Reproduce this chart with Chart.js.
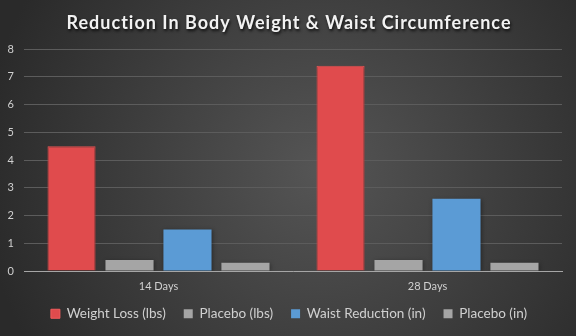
<!DOCTYPE html>
<html>
<head>
<meta charset="utf-8">
<script src="https://cdn.jsdelivr.net/npm/chart.js@4.4.1/dist/chart.umd.min.js"></script>
<style>
  html, body { margin: 0; padding: 0; background: #2b2b2b; }
</style>
</head>
<body>
<canvas id="chart" width="576" height="336"></canvas>
<script>
const titleText = "Reduction In Body Weight & Waist Circumference";
const categories = ["14 Days", "28 Days"];
const weightLoss = [4.5, 7.4];
const placeboLbs = [0.4, 0.4];
const waistReduction = [1.5, 2.6];
const placeboIn = [0.3, 0.3];
const yTicks = [0, 1, 2, 3, 4, 5, 6, 7, 8];

const fontFamily = "Lato, 'Open Sans', sans-serif";

// background + title drawn by hand (title needs a drop shadow)
const backdrop = {
  id: "backdrop",
  beforeDraw(chart) {
    const { ctx, width, height } = chart;
    ctx.save();
    const g = ctx.createRadialGradient(320, 170, 0, 320, 170, 340);
    g.addColorStop(0, "#555555");
    g.addColorStop(1, "#2a2a2a");
    ctx.fillStyle = g;
    ctx.fillRect(0, 0, width, height);
    ctx.restore();
  },
  afterDraw(chart) {
    const ctx = chart.ctx;
    ctx.save();
    ctx.font = "bold 18px " + fontFamily;
    ctx.letterSpacing = "1px";
    ctx.textAlign = "center";
    ctx.textBaseline = "alphabetic";
    ctx.shadowColor = "rgba(0,0,0,0.8)";
    ctx.shadowBlur = 3;
    ctx.shadowOffsetX = 1;
    ctx.shadowOffsetY = 2;
    ctx.fillStyle = "#f2f2f2";
    ctx.fillText(titleText, 289, 29);
    ctx.restore();
  }
};

// soft shadow under the bars
const barShadow = {
  id: "barShadow",
  beforeDatasetsDraw(chart) {
    const ctx = chart.ctx;
    ctx.save();
    ctx.shadowColor = "rgba(0,0,0,0.35)";
    ctx.shadowBlur = 4;
    ctx.shadowOffsetX = 1;
    ctx.shadowOffsetY = 1;
  },
  afterDatasetsDraw(chart) {
    chart.ctx.restore();
  }
};

// legend band: fixed height, then nudged up a little under the x labels
const legendBand = {
  id: "legendBand",
  beforeLayout(chart) {
    const lg = chart.legend;
    if (lg && !lg._patched) {
      const fit = lg.fit;
      lg.fit = function () {
        fit.call(this);
        this.height = 35;
      };
      lg._patched = true;
    }
  },
  afterLayout(chart) {
    const lg = chart.legend;
    lg.top = 289;
    lg.bottom = 336;
    lg.left += 8;
    lg.right += 8;
  }
};

new Chart(document.getElementById("chart"), {
  type: "bar",
  data: {
    labels: categories,
    datasets: [
      { label: "Weight Loss (lbs)", data: weightLoss, backgroundColor: "#e04b4d", borderColor: "#f35c5c", borderWidth: 1 },
      { label: "Placebo (lbs)", data: placeboLbs, backgroundColor: "#a5a5a5" },
      { label: "Waist Reduction (in)", data: waistReduction, backgroundColor: "#5b9bd5" },
      { label: "Placebo (in)", data: placeboIn, backgroundColor: "#a5a5a5" }
    ]
  },
  options: {
    responsive: false,
    animation: false,
    devicePixelRatio: 1,
    categoryPercentage: 0.862,
    barPercentage: 0.83,
    layout: { padding: { top: 49, right: 14, bottom: 0, left: 0 } },
    plugins: {
      title: { display: false },
      tooltip: { enabled: false },
      legend: {
        position: "bottom",
        labels: {
          color: "#d0d0d0",
          font: { family: fontFamily, size: 13.5 },
          boxWidth: 9,
          boxHeight: 9,
          padding: 18
        }
      }
    },
    scales: {
      x: {
        afterFit(scale) { scale.height = 30; },
        grid: { display: false },
        border: { color: "#a6a6a6", width: 1 },
        ticks: { color: "#d0d0d0", font: { family: fontFamily, size: 11 }, padding: 1 }
      },
      y: {
        min: 0,
        max: 8,
        afterBuildTicks(scale) {
          scale.ticks = yTicks.map(v => ({ value: v }));
        },
        afterFit(scale) { scale.width = 24; },
        grid: { color: "#5c5c5c", drawTicks: false },
        border: { display: false },
        ticks: { color: "#d0d0d0", font: { family: fontFamily, size: 11 }, padding: 10 }
      }
    }
  },
  plugins: [backdrop, barShadow, legendBand]
});
</script>
</body>
</html>
